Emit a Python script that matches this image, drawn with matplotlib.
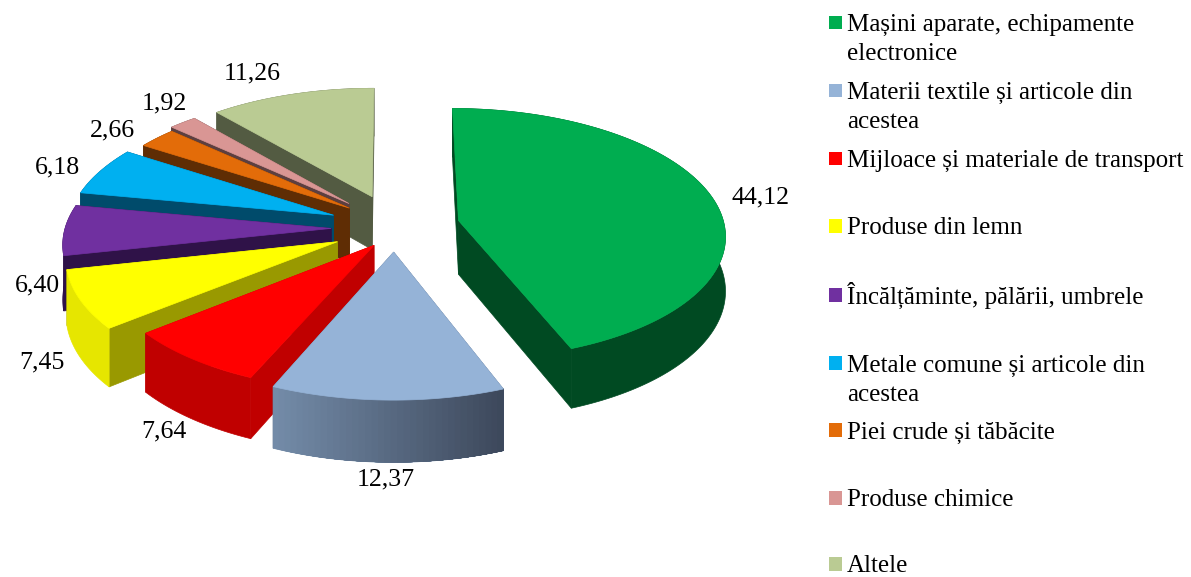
import numpy as np
import matplotlib
matplotlib.use("Agg")
import matplotlib.pyplot as plt
from matplotlib.colors import to_rgb

categories = ["Mașini aparate, echipamente\nelectronice",
              "Materii textile și articole din\nacestea",
              "Mijloace și materiale de transport",
              "Produse din lemn",
              "Încălțăminte, pălării, umbrele",
              "Metale comune și articole din\nacestea",
              "Piei crude și tăbăcite",
              "Produse chimice",
              "Altele"]
values = [44.12, 12.37, 7.64, 7.45, 6.40, 6.18, 2.66, 1.92, 11.26]
value_labels = ["44,12", "12,37", "7,64", "7,45", "6,40", "6,18", "2,66", "1,92", "11,26"]

top_colors = ["#00AD50", "#95B3D7", "#FF0000", "#FFFF00", "#7030A0", "#00B0F0", "#E36C09", "#D99694", "#BACB93"]
radial_colors = ["#004A22", "#5A6E88", "#C00000", "#999900", "#2F1248", "#004B6B", "#5F2D04", "#5C3F40", "#535B42"]
outer_left = ["#004A22", "#738BA8", "#C00000", "#E6E600", "#2F1248", "#004B6B", "#5F2D04", "#5C3F40", "#535B42"]
outer_right = ["#004A22", "#3C475A", "#C00000", "#E6E600", "#2F1248", "#004B6B", "#5F2D04", "#5C3F40", "#535B42"]
explode = [0.24, 0.25, 0.22, 0.25, 0.24, 0.235, 0.21, 0.22, 0.22]
nudge_x = [1, 0, 15, 3, 0, -4, -2, -6, -3]
nudge_y = [6, 0, 3, 8, 8, 6, 4, 3, 2]
draw_order = [8, 7, 6, 5, 4, 3, 2, 1, 0]

label_x = [761, 386, 164, 42, 37, 58, 112, 164, 252]
label_y = [197, 479, 431, 362, 285, 167, 130, 103, 73]
legend_y = [22.5, 90.5, 158.5, 226, 295, 363, 430, 498, 564]

CX, CY, RX, RY, PERSP, THICK = 395, 220, 266, 125, 0.106, 54
FONT = ["Liberation Serif", "DejaVu Serif"]
FS_LEGEND = 18.0
FS_LABEL = 18.6


def project(X, Y, z=0.0):
    s = 1 / (1 + PERSP * Y)
    return CX + X * s * RX, CY - Y * s * RY + z * THICK * s


fig = plt.figure(figsize=(11.91, 5.77), dpi=100, facecolor="white")
ax = fig.add_axes([0, 0, 1, 1])
ax.set_xlim(0, 1191)
ax.set_ylim(577, 0)
ax.axis("off")

edges = np.concatenate([[0], np.cumsum(values)]) / sum(values) * 2 * np.pi


def fill(xs, ys, color, zorder, lw=0.5):
    ax.fill(xs, ys, facecolor=color, edgecolor=color, linewidth=lw, zorder=zorder)


for rank, i in enumerate(draw_order):
    a0, a1 = edges[i], edges[i + 1]
    mid = (a0 + a1) / 2
    ax0, ay0 = explode[i] * np.sin(mid), explode[i] * np.cos(mid)
    th = np.linspace(a0, a1, max(int((a1 - a0) * 50), 8))
    X = ax0 + np.sin(th)
    Y = ay0 + np.cos(th)
    z = rank * 10
    dx, dy = nudge_x[i], nudge_y[i]
    # radial faces
    for (ex, ey) in ((X[0], Y[0]), (X[-1], Y[-1])):
        px, py = project(np.array([ax0, ex, ex, ax0]), np.array([ay0, ey, ey, ay0]),
                         np.array([0, 0, 1, 1]))
        fill(px + dx, py + dy, radial_colors[i], z + 1)
    # outer face: a solid body, then overlapping bands when the shade changes across it
    tx, ty = project(X, Y, 0)
    bx, by = project(X, Y, 1)
    tx, ty, bx, by = tx + dx, ty + dy, bx + dx, by + dy
    fill(np.r_[tx, bx[::-1]], np.r_[ty, by[::-1]], outer_left[i], z + 2)
    if outer_left[i] != outer_right[i]:
        c0, c1 = np.array(to_rgb(outer_left[i])), np.array(to_rgb(outer_right[i]))
        order = np.argsort(tx)
        sx, sy, ux, uy = tx[order], ty[order], bx[order], by[order]
        for k in range(len(sx) - 1):
            t = (sx[k] - sx[0]) / (sx[-1] - sx[0])
            col = tuple(c0 + (c1 - c0) * t)
            fill(np.r_[sx[k:], ux[k:][::-1]], np.r_[sy[k:], uy[k:][::-1]], col, z + 2, lw=0)
    # top face
    ox, oy = project(ax0, ay0, 0)
    fill(np.r_[ox + dx, tx], np.r_[oy + dy, ty], top_colors[i], z + 3)

for x, y, s in zip(label_x, label_y, value_labels):
    ax.text(x, y, s, family=FONT, fontsize=FS_LABEL, color="black", ha="center", va="center", zorder=200)

ax.scatter([835.5] * len(categories), legend_y, marker="s", s=88, c=top_colors,
           linewidths=0, zorder=200)
for y, label in zip(legend_y, categories):
    for n, line in enumerate(label.split("\n")):
        ax.text(847, y + 8.5 + n * 29.5, line, family=FONT, fontsize=FS_LEGEND, color="black",
                ha="left", va="baseline", zorder=200)

fig.savefig("out.png", dpi=100, facecolor="white")
